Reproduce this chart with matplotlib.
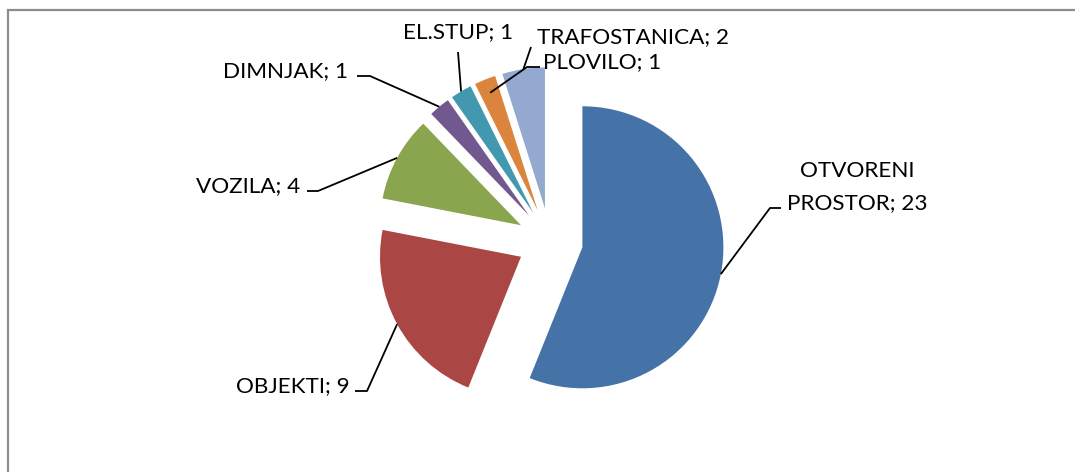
import numpy as np
import matplotlib
matplotlib.use("Agg")
import matplotlib.pyplot as plt

# ---- data ----
categories = ["OTVORENI PROSTOR", "OBJEKTI", "VOZILA", "DIMNJAK", "EL.STUP", "PLOVILO", "TRAFOSTANICA"]
values = [23, 9, 4, 1, 1, 1, 2]
colors = ["#4572A7", "#AA4643", "#89A54E", "#71588F", "#4198AF", "#DB843D", "#93A9CF"]

W, H = 1075, 472
fig = plt.figure(figsize=(W / 100, H / 100), dpi=100)
ax = fig.add_axes([0, 0, 1, 1])

def P(px, py):
    return (px, H - py)

center = P(550, 241)
radius = 141
wedges, _ = ax.pie(values, colors=colors, startangle=90, counterclock=False,
                   radius=radius, center=center, explode=[33] * len(values),
                   wedgeprops=dict(linewidth=0))
ax.set_xlim(0, W)
ax.set_ylim(0, H)
ax.set_aspect("auto")
ax.axis("off")

# chart area border (cropped at right and bottom)
ax.plot([8, 8, W + 5], [-5, H - 10, H - 10], color="#8c8c8c", lw=1.6,
        clip_on=False, solid_joinstyle="miter")

FONT = "Lato"
FS = 16.2

# label layout: (text lines with baselines, ha, x, elbow points in pixel coords)
layout = {
    "OTVORENI PROSTOR": dict(ha="center", x=857, lines=[("OTVORENI", 177), (None, 209)],
                             path=[(770, 208), (781, 208)]),
    "OBJEKTI": dict(ha="right", x=350, lines=[(None, 392)], path=[(367, 391), (355, 391)]),
    "VOZILA": dict(ha="right", x=300, lines=[(None, 192)], path=[(318, 191), (307, 191)]),
    "DIMNJAK": dict(ha="right", x=348, lines=[(None, 77)], path=[(370, 76), (357, 76)]),
    "EL.STUP": dict(ha="center", x=458, lines=[(None, 38)], path=[(458, 52)]),
    "PLOVILO": dict(ha="left", x=543, lines=[(None, 68)], path=[(527, 67), (540, 67)], rf=0.9),
    "TRAFOSTANICA": dict(ha="left", x=537, lines=[(None, 43)], path=[(531, 47)]),
}

for w, cat, val in zip(wedges, categories, values):
    lay = layout[cat]
    mid = np.deg2rad((w.theta1 + w.theta2) / 2)
    cx, cy = w.center
    rr = w.r * lay.get("rf", 1.0)
    ax_pt = (cx + rr * np.cos(mid), cy + rr * np.sin(mid))
    pts = [ax_pt] + [P(*p) for p in lay["path"]]
    xs, ys = zip(*pts)
    ax.plot(xs, ys, color="black", lw=1.3, solid_capstyle="butt")
    full = f"{cat}; {val}"
    if len(lay["lines"]) == 2:
        first = lay["lines"][0][0]
        rest = full[len(first):].strip()
        txts = [(first, lay["lines"][0][1]), (rest, lay["lines"][1][1])]
    else:
        txts = [(full, lay["lines"][0][1])]
    for t, by in txts:
        ax.text(lay["x"], H - by, t, ha=lay["ha"], va="baseline",
                fontsize=FS, family=FONT, color="black")

fig.savefig("out.png", dpi=100)
